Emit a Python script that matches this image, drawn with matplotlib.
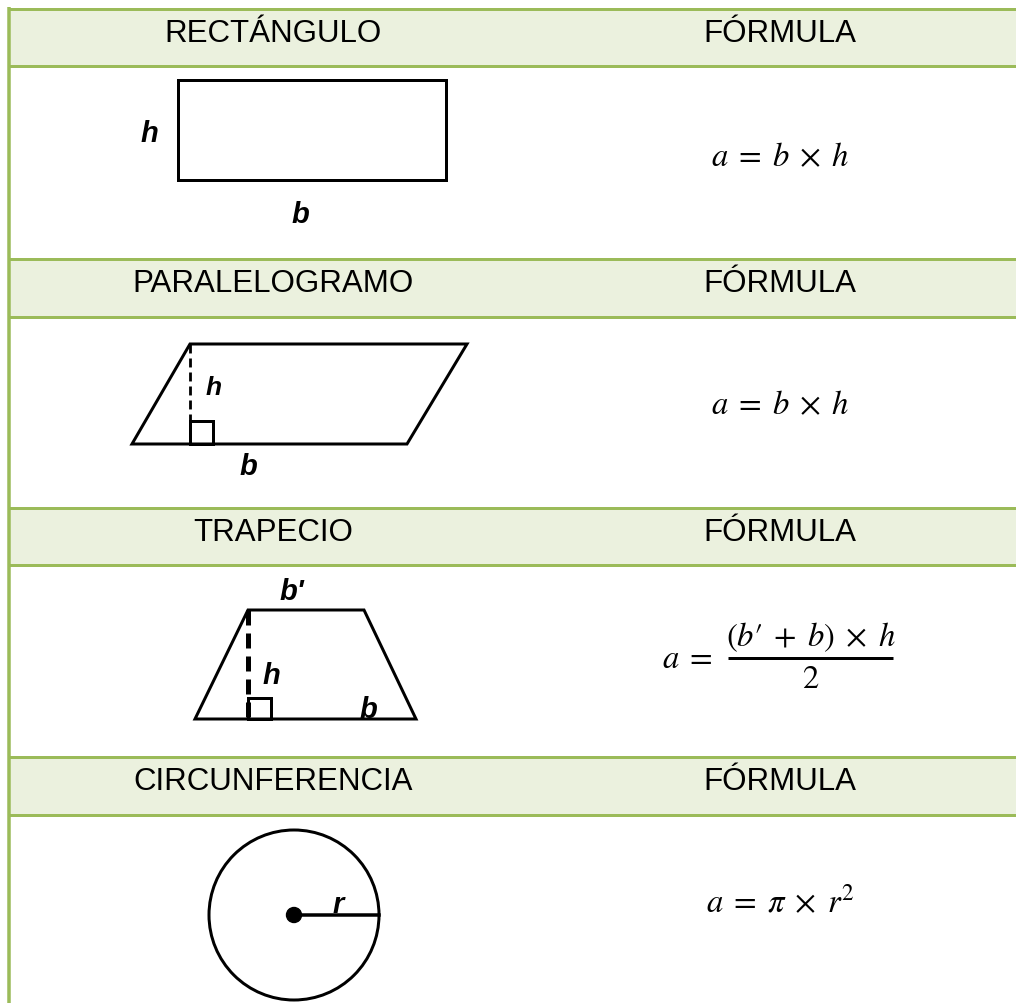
import matplotlib
matplotlib.use("Agg")
import matplotlib.pyplot as plt
from matplotlib.patches import Rectangle, Polygon, Circle

plt.rcParams['mathtext.fontset'] = 'stix'

# ---- content ----
shape_names = ["RECTÁNGULO", "PARALELOGRAMO", "TRAPECIO", "CIRCUNFERENCIA"]
formula_header = "FÓRMULA"
formula_rect = r"$a\;=\;b\;\times\;h$"
formula_para = r"$a\;=\;b\;\times\;h$"
formula_trap_lhs = r"$a\;=$"
formula_trap_num = r"$(b\prime\;+\;b)\;\times\;h$"
formula_trap_den = r"$2$"
formula_circ = r"$a\;=\;\pi\;\times\;r^{2}$"

# band geometry (pixels)
band_tops = [9.5, 259.5, 509.0, 758.0]
band_bottoms = [67.0, 317.5, 566.0, 816.0]

# shape geometry (pixels)
rect_xy = [(178, 81), (446, 81), (446, 181), (178, 181)]
para_xy = [(190, 345), (467, 345), (407, 445), (132, 445)]
trap_xy = [(248, 611), (364, 611), (416, 720), (195, 720)]
circle_center = (294, 916)
circle_radius = 85

GREEN = "#9BBB59"
FILL = "#EBF1DE"
W, H = 1016, 1004

fig = plt.figure(figsize=(W / 100, H / 100), dpi=100)
ax = fig.add_axes([0, 0, 1, 1])
ax.set_xlim(0, W)
ax.set_ylim(H, 0)
ax.axis('off')

px = 0.72  # points per pixel
LW = 3 * px

# header bands
for t, b in zip(band_tops, band_bottoms):
    ax.add_patch(Rectangle((8.5, t), W - 8.5, b - t, facecolor=FILL, edgecolor='none', zorder=1))
    ax.plot([8.5, W], [t, t], color=GREEN, lw=3 * px, solid_capstyle='butt', zorder=2)
    ax.plot([8.5, W], [b, b], color=GREEN, lw=3 * px, solid_capstyle='butt', zorder=2)
ax.plot([8.5, 8.5], [8, H], color=GREEN, lw=3.5 * px, solid_capstyle='butt', zorder=3)

hfont = dict(family='Liberation Sans', fontsize=22.5, color='black')
for name, t in zip(shape_names, band_tops):
    base = t + 32.5
    ax.text(273, base, name, ha='center', va='baseline', **hfont)
    ax.text(780, base, formula_header, ha='center', va='baseline', **hfont)

# formulas
FS = 23.5
ffont = dict(fontsize=FS, color='black', va='baseline')
ax.text(780, 166, formula_rect, ha='center', **ffont)
ax.text(780, 414, formula_para, ha='center', **ffont)
ax.text(780, 913, formula_circ, ha='center', **ffont)
# trapezoid fraction
ax.text(712, 668, formula_trap_lhs, ha='right', **ffont)
ax.text(810.5, 646, formula_trap_num, ha='center', **ffont)
ax.plot([728, 893], [659, 659], color='black', lw=3 * px, solid_capstyle='butt')
ax.text(810.5, 688, formula_trap_den, ha='center', **ffont)

lab = dict(family='Liberation Sans', fontweight='bold', fontstyle='italic',
           fontsize=21, color='black', ha='center', va='baseline')

# rectangle
ax.add_patch(Polygon(rect_xy, closed=True, fill=False, lw=LW, ec='black', joinstyle='miter', zorder=4))
ax.text(149, 142, "h", **lab)
ax.text(300, 223, "b", **lab)

# parallelogram
ax.add_patch(Polygon(para_xy, closed=True, fill=False, lw=LW, ec='black', joinstyle='miter', zorder=4))
ax.plot([190, 190], [345, 445], color='black', lw=2.8 * px, dashes=(3.2, 1.8), zorder=4)
ax.add_patch(Rectangle((190, 422), 23, 23, fill=False, lw=LW, ec='black', zorder=4))
ax.text(214, 395, "h", **{**lab, 'fontsize': 19})
ax.text(248, 475, "b", **lab)

# trapezoid
ax.add_patch(Polygon(trap_xy, closed=True, fill=False, lw=LW, ec='black', joinstyle='miter', zorder=4))
ax.plot([248, 248], [611, 720], color='black', lw=5 * px, dashes=(3, 1.6), zorder=4)
ax.add_patch(Rectangle((248, 699), 23, 21, fill=False, lw=LW, ec='black', zorder=4))
ax.text(292, 600, "b'", **lab)
ax.text(271, 684, "h", **lab)
ax.text(368, 718, "b", **lab)

# circle
ax.add_patch(Circle(circle_center, circle_radius, fill=False, lw=LW, ec='black', zorder=4))
ax.plot([circle_center[0], circle_center[0] + circle_radius], [circle_center[1]] * 2,
        color='black', lw=3.5 * px, zorder=4)
ax.add_patch(Circle(circle_center, 7.5, color='black', zorder=5))
ax.text(338, 913, "r", **lab)

fig.savefig("out.png", dpi=100)
